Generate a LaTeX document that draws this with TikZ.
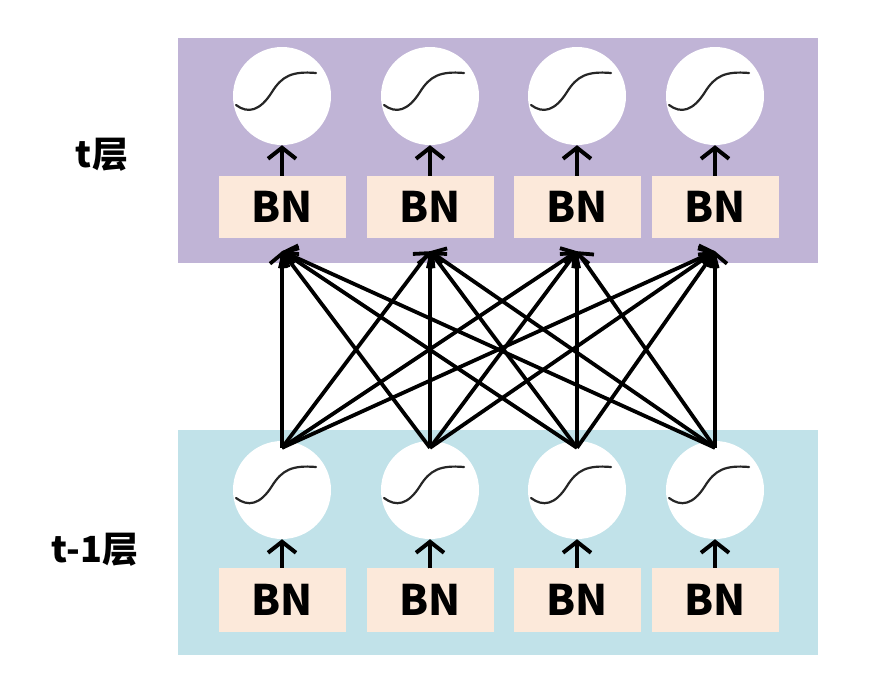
\documentclass[tikz,border=0pt]{standalone}
\usepackage{fontspec}
\newfontfamily\cjk{Noto Sans CJK SC}
\usetikzlibrary{arrows.meta}
\definecolor{layertop}{RGB}{192,180,214}
\definecolor{layerbot}{RGB}{193,226,233}
\definecolor{bnfill}{RGB}{252,233,218}
\begin{document}
\begin{tikzpicture}[x=1pt,y=-1pt,
  layerbox/.style={rectangle,inner sep=0pt,minimum width=640pt,minimum height=225pt,anchor=north west},
  bnbox/.style={rectangle,fill=bnfill,inner sep=0pt,minimum width=127pt,minimum height=62pt,
     font=\cjk\bfseries\fontsize{42}{42}\selectfont},
  neuron/.style={circle,fill=white,inner sep=0pt,minimum size=98pt},
  layerlabel/.style={font=\cjk\bfseries\fontsize{36}{36}\selectfont},
  sig/.style={line width=2.2pt,black!85,line cap=round},
  shortarrow/.style={line width=4pt,-{Straight Barb[length=11pt,width=28pt,line width=4pt]}},
  link/.style={line width=3.8pt,-{Straight Barb[length=10pt,width=24pt,line width=3.8pt]}}]
\useasboundingbox (0,0) rectangle (894,678);
\node[layerbox,fill=layertop] (Ltop) at (178,38) {};
\node[layerbox,fill=layerbot] (Lbot) at (178,430) {};
\node[layerlabel] (labtop) at (102,155) {t层};
\node[layerlabel] (labbot) at (95,550) {t-1层};
\foreach \i/\x in {1/282,2/430,3/577,4/715}{
  \node[neuron] (tc\i) at (\x,96) {};
  \node[neuron] (bc\i) at (\x,490) {};
  \node[bnbox] (tbn\i) at (\x,207) {BN};
  \node[bnbox,minimum height=64pt] (bbn\i) at (\x,600) {BN};
  \draw[sig,shift={(tc\i.center)}] (-46,9) .. controls (-34,18) and (-22,15) .. (-10,-4) .. controls (0,-20) and (10,-25) .. (34,-23);
  \draw[sig,shift={(bc\i.center)}] (-46,8) .. controls (-34,17) and (-22,15) .. (-10,-4) .. controls (0,-20) and (10,-25) .. (34,-23);
  \draw[shortarrow] (tbn\i.north) -- (tc\i.south);
  \draw[shortarrow] (bbn\i.north) -- (bc\i.south);
  \coordinate (tin\i) at ([yshift=-13pt]tbn\i.south);
  \coordinate (bout\i) at ([yshift=-7pt]bc\i.north);
}
\foreach \i in {1,2,3,4}{
  \foreach \j in {1,2,3,4}{
    \draw[link] (bout\i) -- (tin\j);
  }
}
\end{tikzpicture}
\end{document}
